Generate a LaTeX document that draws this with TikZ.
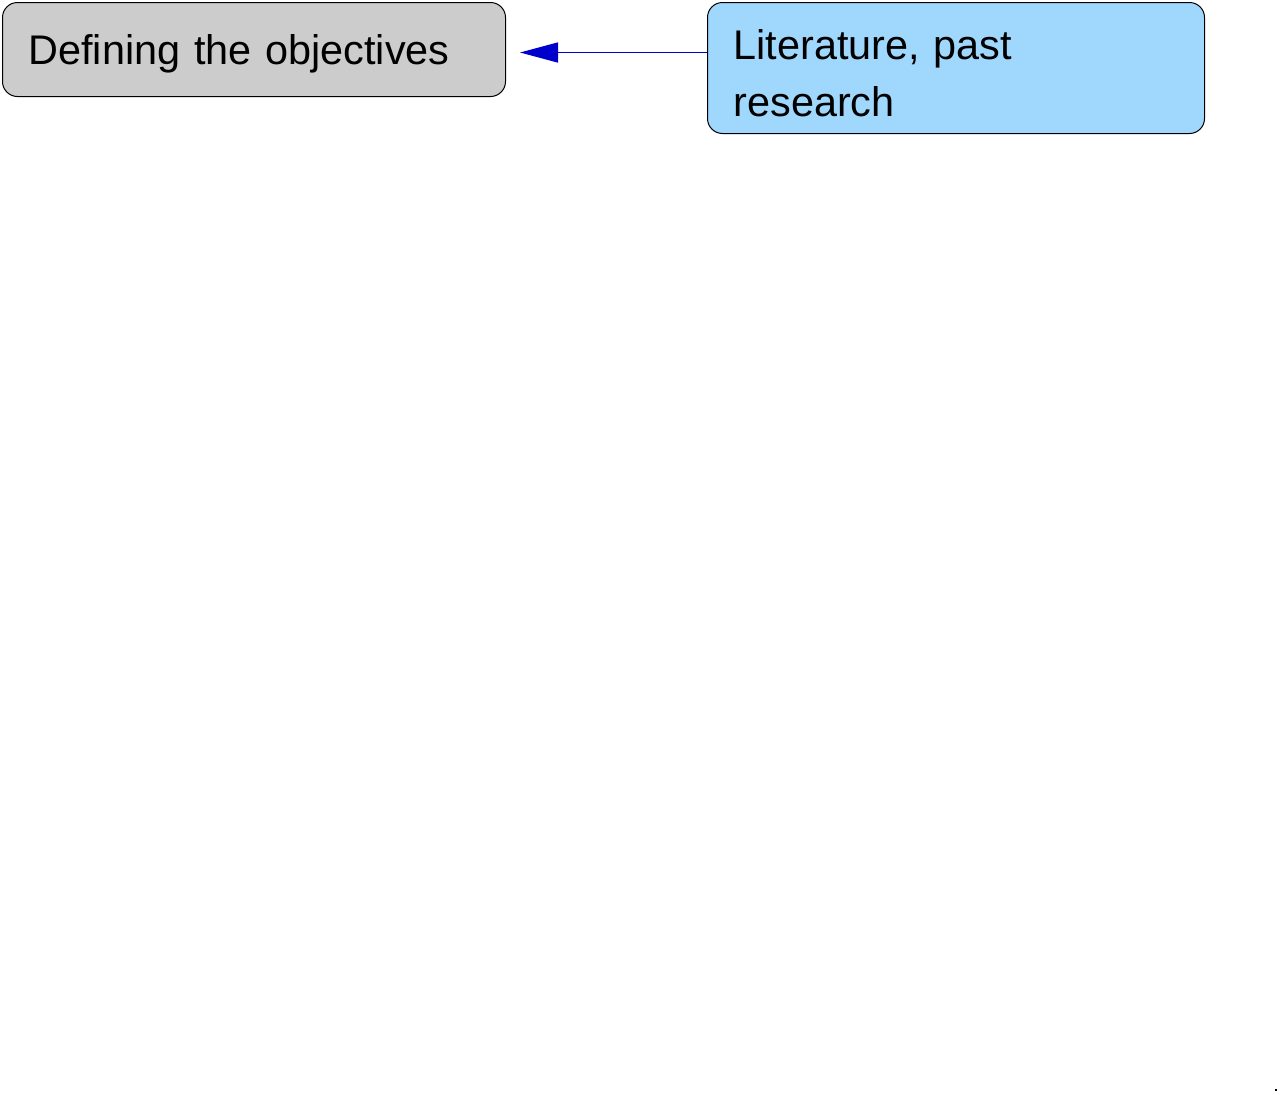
\documentclass[tikz,border=0pt]{standalone}
\usepackage{fontspec}
\setmainfont{Liberation Sans}
\usepackage{xcolor}
\usetikzlibrary{shapes.geometric, arrows.meta}
\definecolor{boxgrey}{HTML}{CCCCCC}
\definecolor{boxblue}{HTML}{A0D8FD}
\definecolor{arrowblue}{HTML}{0000CC}
\tikzstyle{stage} = [rectangle, rounded corners=7.5pt, draw=black, line width=0.5pt, anchor=north west, inner xsep=13pt, inner ysep=0pt, align=left, font=\fontsize{20.7}{28.5}\selectfont]
\tikzstyle{arrow} = [line width=0.75pt, draw=arrowblue, -{Triangle[length=19pt,width=10pt]}]

\begin{document}
\begin{tikzpicture}[x=0.5pt, y=-0.5pt]
    \useasboundingbox (0,0) rectangle (1283,1094);
    \node (goal) [stage, fill=boxgrey, text width=225.5pt, text height=31pt, text depth=16pt] at (2,2) {Defining the objectives};
    \node (lit) [stage, fill=boxblue, text width=222.5pt, text height=28.5pt, text depth=37pt] at (707,2) {Literature, past\\research};
    \draw[arrow] ([yshift=-1.5pt]lit.west |- goal.east) -- ([xshift=7pt, yshift=-1.5pt]goal.east);
    \fill (1275,1089) rectangle (1277,1091);
\end{tikzpicture}
\end{document}
